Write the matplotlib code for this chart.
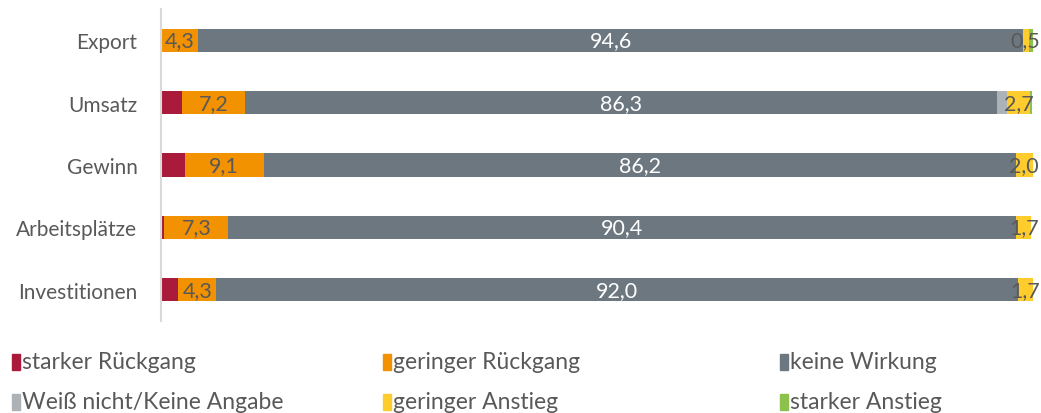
import numpy as np
import matplotlib.pyplot as plt
from matplotlib.patches import Rectangle

plt.rcParams['font.family'] = ['Lato', 'DejaVu Sans']

categories = ['Export', 'Umsatz', 'Gewinn', 'Arbeitsplätze', 'Investitionen']
series = ['starker Rückgang', 'geringer Rückgang', 'keine Wirkung',
          'Weiß nicht/Keine Angabe', 'geringer Anstieg', 'starker Anstieg']
starker_rueckgang = [0.0, 2.4, 2.7, 0.4, 2.0]
geringer_rueckgang = [4.3, 7.2, 9.1, 7.3, 4.3]
keine_wirkung = [94.6, 86.3, 86.2, 90.4, 92.0]
weiss_nicht = [0.0, 1.1, 0.0, 0.0, 0.0]
geringer_anstieg = [0.6, 2.7, 2.0, 1.7, 1.7]
starker_anstieg = [0.5, 0.2, 0.0, 0.0, 0.0]
# which segments carry a value label (Excel hides the rest)
labelled = {1: [0, 1, 2, 3, 4], 2: [0, 1, 2, 3, 4], 4: [1, 2, 3, 4], 5: [0]}

colors = ['#AA1A3B', '#F39200', '#6C7780', '#ADB2B6', '#FFCC2E', '#8CC14B']
txt = '#595959'
label_colors = {1: txt, 2: 'white', 4: txt, 5: txt}

values = [starker_rueckgang, geringer_rueckgang, keine_wirkung,
          weiss_nicht, geringer_anstieg, starker_anstieg]

fig = plt.figure(figsize=(10.41, 4.14), dpi=100)
ax = fig.add_axes([161/1041, 1-322/414, 872/1041, 312/414])

y = np.arange(len(categories))
left = np.zeros(len(categories))
for i, vals in enumerate(values):
    vals = np.array(vals)
    ax.barh(y, vals, left=left, height=0.37, color=colors[i], label=series[i])
    if i in labelled:
        for j in labelled[i]:
            s = f'{vals[j]:.1f}'.replace('.', ',')
            if i == 5:
                # last tiny segment: keep the label inside the figure
                ax.text(left[j] + vals[j] + 0.8, y[j], s, ha='right', va='center',
                        fontsize=15.5, color=label_colors[i], clip_on=False)
            else:
                ax.text(left[j] + vals[j]/2, y[j], s, ha='center', va='center',
                        fontsize=15.5, color=label_colors[i], clip_on=False)
    left += vals

ax.set_xlim(0, 100)
ax.set_ylim(len(categories) - 0.5, -0.5)
ax.set_yticks(y)
ax.set_yticklabels(categories, fontsize=15, color=txt)
ax.tick_params(axis='y', length=0, pad=17)
ax.set_xticks([])
for s in ['top', 'right', 'bottom']:
    ax.spines[s].set_visible(False)
ax.spines['left'].set_color('#D9D9D9')
ax.spines['left'].set_linewidth(1.5)

# legend, 3 columns x 2 rows
col_x = [12, 383, 780]
row_y = [363, 403]
for k, name in enumerate(series):
    r, c = k // 3, k % 3
    fx = col_x[c] / 1041
    fy = 1 - row_y[r] / 414
    fig.patches.append(Rectangle((fx, fy - 8/414), 8/1041, 16/414,
                                 transform=fig.transFigure, color=colors[k]))
    fig.text(fx + 10/1041, fy, name, fontsize=16.5, color=txt, va='center', ha='left')

plt.savefig('out.png', dpi=100)
